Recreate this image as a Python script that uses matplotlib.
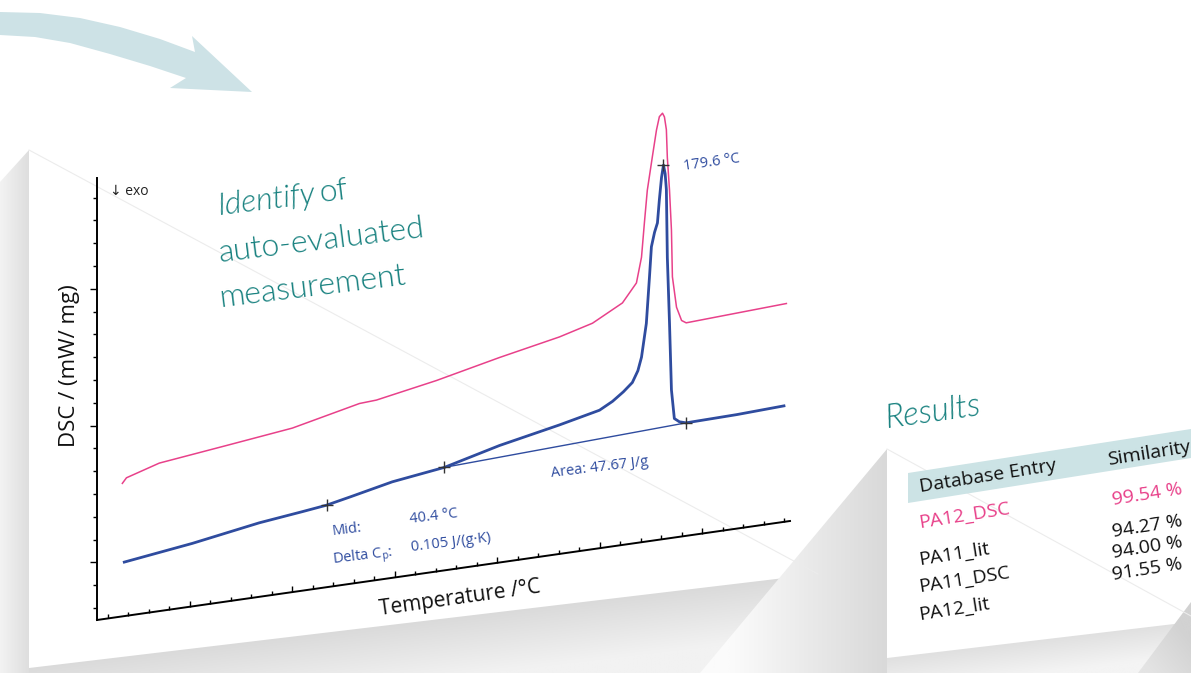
import numpy as np
import matplotlib
matplotlib.use("Agg")
import matplotlib.pyplot as plt
from matplotlib.transforms import Affine2D
from matplotlib.patches import Polygon
from matplotlib.colors import LinearSegmentedColormap

plt.rcParams["font.family"] = ["Open Sans", "DejaVu Sans"]
plt.rcParams["mathtext.fontset"] = "custom"
plt.rcParams["mathtext.rm"] = "Open Sans"

# --- DSC data (temperature in °C, DSC in mW/mg) ---
blue_T = [-43.7, -15.5, 12.2, 30.0, 40.0, 50.0, 67.3, 88.9, 111.7, 136.5, 153.1,
          158.5, 163.0, 166.7, 169.0, 170.5, 172.5, 173.8, 174.6, 175.9, 177.1,
          177.9, 178.8, 179.6, 180.3, 180.8, 181.2, 182.1, 182.9, 184.1, 186.2,
          189.0, 210.0, 229.5]
blue_D = [0.54, 0.63, 0.74, 0.79, 0.82, 0.87, 0.96, 1.03, 1.17, 1.29, 1.38,
          1.45, 1.53, 1.61, 1.72, 1.85, 2.18, 2.64, 2.94, 3.08, 3.17,
          3.40, 3.62, 3.74, 3.65, 3.49, 2.81, 2.15, 1.48, 1.19, 1.15,
          1.13, 1.14, 1.16]

pink_T = [-44.5, -42.8, -29.2, -1.4, 25.9, 53.7, 60.7, 85.6, 111.7, 136.5, 150.2,
          162.6, 168.4, 170.5, 171.7, 172.9, 175.0, 176.7, 177.9, 179.2, 180.0,
          180.8, 181.2, 182.1, 182.9, 183.3, 185.0, 187.1, 189.0, 230.5]
pink_D = [1.33, 1.38, 1.48, 1.56, 1.64, 1.79, 1.80, 1.91, 2.05, 2.17, 2.26,
          2.42, 2.60, 2.85, 3.19, 3.51, 3.84, 4.10, 4.23, 4.26, 4.22,
          4.09, 3.81, 3.48, 3.08, 2.61, 2.30, 2.16, 2.13, 2.18]

base_T = [88.9, 189.0]          # integration baseline
base_D = [1.03, 1.13]
mark_T = [40.4, 88.9, 179.6, 189.0]
mark_D = [0.82, 1.03, 3.74, 1.13]

# results table
entries = ["PA12_DSC", "PA11_lit", "PA11_DSC", "PA12_lit"]
similarity = ["99.54 %", "94.27 %", "94.00 %", "91.55 %"]

# axis ranges of the tilted plot
T_MIN, T_MAX, D_MAX = -55.0, 232.0, 4.42
x_ticks = -50.6 + 8.49 * np.arange(34)
y_ticks = 0.12 + 0.228 * np.arange(19)

BLUE = "#2f4c9f"
PINK = "#e8418a"
TEAL = "#16807e"

W, H = 1191, 673
fig = plt.figure(figsize=(W / 100, H / 100), dpi=100)
ax = fig.add_axes([0, 0, 1, 1])


def shade(verts, c0, c1, p0, p1):
    verts = np.asarray(verts, float)
    x0, y0 = verts.min(0)
    x1, y1 = verts.max(0)
    X, Y = np.meshgrid(np.linspace(x0, x1, 200), np.linspace(y0, y1, 200))
    d = np.subtract(p1, p0)
    t = np.clip(((X - p0[0]) * d[0] + (Y - p0[1]) * d[1]) / (d @ d), 0, 1)
    cmap = LinearSegmentedColormap.from_list("g", [c0, c1])
    im = ax.imshow(t, extent=(x0, x1, y0, y1), origin="lower", cmap=cmap,
                   vmin=0, vmax=1, aspect="auto", interpolation="bilinear", zorder=0)
    poly = Polygon(verts, closed=True, fc="none", ec="none")
    ax.add_patch(poly)
    im.set_clip_path(poly)


# panel shadows
shade([(0, 182), (29, 150), (29, 673), (0, 673)], "#f3f3f3", "#dedede", (0, 0), (29, 0))
shade([(29, 668), (818, 574), (818, 673), (29, 673)], "#dadada", "#f2f2f2", (420, 621), (427, 680))
shade([(887, 449), (887, 673), (700, 673)], "#fbfbfb", "#d9d9d9", (730, 0), (887, 0))
shade([(887, 658), (1191, 622), (1191, 673), (887, 673)], "#e0e0e0", "#f4f4f4", (1040, 640), (1044, 673))
shade([(1191, 602), (1191, 673), (1138, 673)], "#e4e4e4", "#d2d2d2", (1150, 673), (1191, 640))
ax.plot([29, 818], [150, 574], color="#ececec", lw=0.8, zorder=1)
ax.plot([887, 1191], [449, 616], color="#ececec", lw=0.8, zorder=1)

# curved arrow
arrow = [(0, 12), (40, 13), (80, 18), (120, 27), (160, 39), (195, 52), (192, 36),
         (252, 92), (170, 88), (186, 78), (150, 66), (110, 54), (70, 43), (35, 37), (0, 35)]
ax.add_patch(Polygon(arrow, closed=True, fc="#cde2e6", ec="none", zorder=1))

# tilted plot transform: (T, D) -> pixel
a = (790 - 97) / (T_MAX - T_MIN)
c = (521 - 620) / (T_MAX - T_MIN)
d = (178 - 620) / D_MAX
tr = Affine2D(np.array([[a, 0, 97 - a * T_MIN],
                        [c, d, 620 - c * T_MIN],
                        [0, 0, 1]])) + ax.transData

ax.plot([T_MIN, T_MAX], [0, 0], color="k", lw=1.4, transform=tr, zorder=3)
ax.plot([T_MIN, T_MIN], [0, D_MAX], color="k", lw=1.4, transform=tr, zorder=3)
for i, t in enumerate(x_ticks):
    ax.plot([t], [0], ls="none", marker=2, ms=4.5 if i % 5 == 4 else 3,
            mew=1, color="k", transform=tr, zorder=3)
for i, v in enumerate(y_ticks):
    ax.plot([T_MIN], [v], ls="none", marker=0, ms=5 if i % 6 == 2 else 3,
            mew=1, color="k", transform=tr, zorder=3)

ax.plot(pink_T, pink_D, color=PINK, lw=1.1, transform=tr, zorder=4,
        solid_joinstyle="round")
ax.plot(base_T, base_D, color=BLUE, lw=1.0, transform=tr, zorder=4)
ax.plot(blue_T, blue_D, color=BLUE, lw=2.0, transform=tr, zorder=5,
        solid_joinstyle="round")
ax.plot(mark_T, mark_D, ls="none", marker="+", ms=9, mew=1.0, color="#333333",
        transform=tr, zorder=6)

# axis texts
ax.text(110, 195, "↓ exo", fontsize=10, color="#222222", ha="left", va="baseline")
ax.text(70, 366, "DSC / (mW/ mg)", fontsize=16, rotation=90, ha="center",
        va="center", color="#111111")
ax.text(460, 598, "Temperature /°C", fontsize=15, rotation=8, ha="center",
        va="center", rotation_mode="anchor", color="#111111")

# evaluation annotations
kw = dict(color=BLUE, fontsize=10.5, ha="left", va="baseline", rotation_mode="anchor")
ax.text(684, 170, "179.6 °C", rotation=8, **kw)
ax.text(552, 477, "Area: 47.67 J/g", rotation=7, **kw)
ax.text(333, 535, "Mid:", rotation=7, **kw)
ax.text(410, 523, "40.4 °C", rotation=7, **kw)
ax.text(333, 563, r"Delta C$_\mathregular{p}$:", rotation=7, **kw)
ax.text(412, 551, "0.105 J/(g·K)", rotation=7, **kw)

# teal headings
tk = dict(color=TEAL, fontsize=23, ha="left", va="baseline", rotation=7,
          rotation_mode="anchor", family=["Lato", "DejaVu Sans"], fontweight=300)
ax.text(218, 215, "Identify", style="italic", **tk)
ax.text(320, 202, "of", **tk)
ax.text(220, 262, "auto-evaluated", **tk)
ax.text(220, 307, "measurement", **tk)
ax.text(887, 428, "Results", style="italic", **{**tk, "fontsize": 24, "rotation": 8})

# results table
ax.add_patch(Polygon([(908, 473), (1191, 429), (1191, 458), (908, 503)],
                     closed=True, fc="#cce3e5", ec="none", zorder=2))
rk = dict(fontsize=14, ha="left", va="baseline", rotation=9, rotation_mode="anchor",
          color="#111111", zorder=3)
ax.text(920, 492, "Database Entry", **rk)
ax.text(1108, 465, "Similarity", **rk)
row_y = [528, 565, 592, 620]
val_y = [505, 537, 558, 580]
for i, (e, s, ry, vy) in enumerate(zip(entries, similarity, row_y, val_y)):
    col = PINK if i == 0 else "#111111"
    ax.text(920, ry, e, **{**rk, "color": col})
    ax.text(1113, vy, s, **{**rk, "color": col})

ax.set_xlim(0, W)
ax.set_ylim(H, 0)
ax.axis("off")
fig.savefig("out.png", dpi=100, facecolor="white")
